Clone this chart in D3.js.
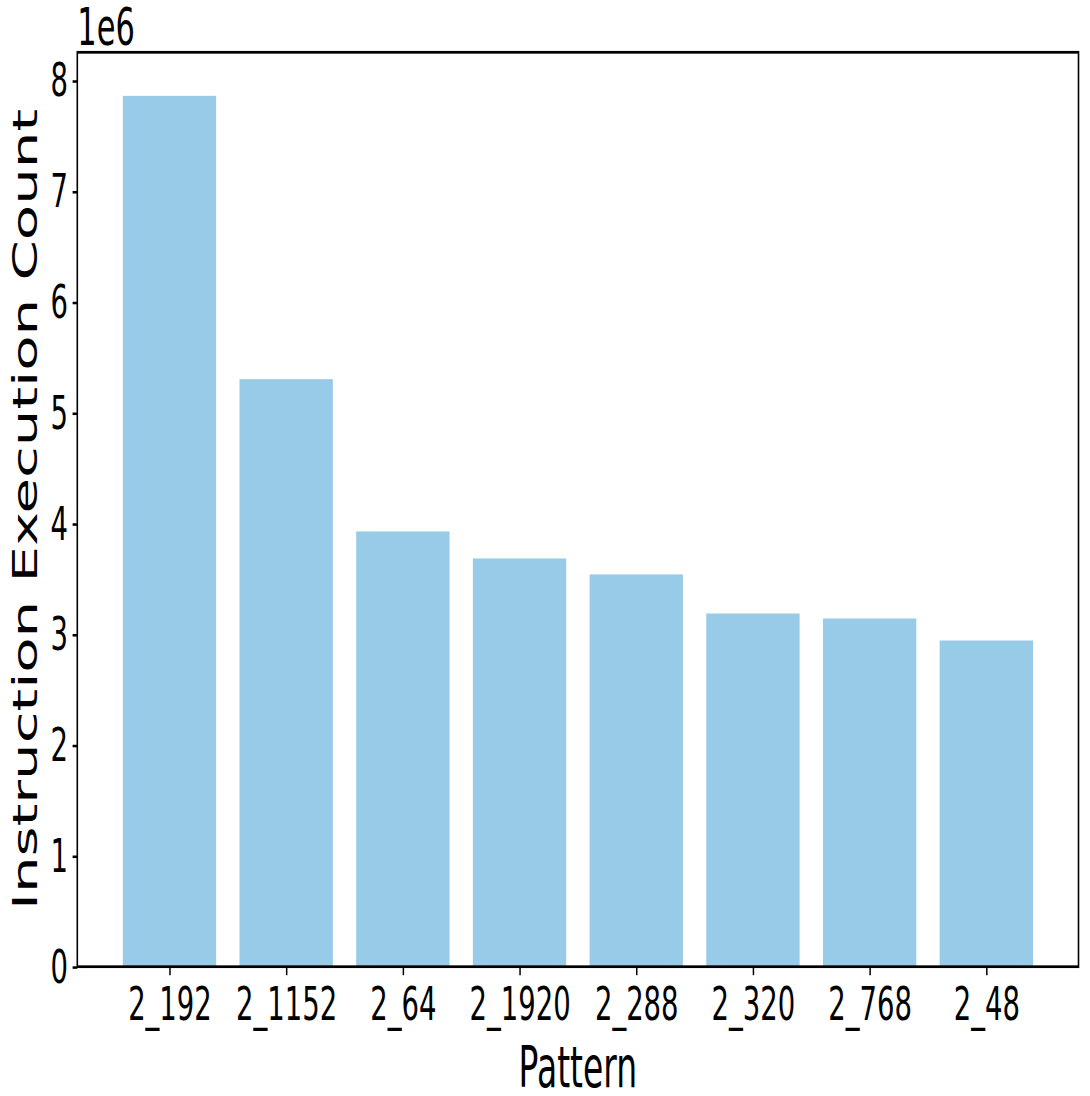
<!DOCTYPE html>
<html>
<head>
<meta charset="utf-8">
<script src="https://cdn.jsdelivr.net/npm/d3@7"></script>
<style>
  body { margin: 0; background: #fff; }
  svg { display: block; }
  text { font-family: "DejaVu Sans", sans-serif; }
</style>
</head>
<body>
<script>
const patterns = ['2_192', '2_1152', '2_64', '2_1920', '2_288', '2_320', '2_768', '2_48']
const counts = [7863000, 5305000, 3930000, 3686000, 3542000, 3189000, 3144000, 2945000]
const yTicks = [0, 1, 2, 3, 4, 5, 6, 7, 8]

var W = 1090
var H = 1096
// the original picture is stretched vertically, so draw in a squashed box and stretch it
var stretch = 1.7
var vh = H / stretch
var plotLeft = 77.3
var plotRight = 1078.5
var plotTop = 52.3 / stretch
var plotBottom = 966.7 / stretch

var svg = d3.select('body')
  .append('svg')
  .attr('width', W)
  .attr('height', H)
  .attr('viewBox', '0 0 ' + W + ' ' + vh)
  .attr('preserveAspectRatio', 'none')

const xScale = d3.scaleLinear()
  .domain([-0.79, patterns.length - 1 + 0.79])
  .range([plotLeft, plotRight])

const yScale = d3.scaleLinear()
  .domain([0, d3.max(counts) * 1.05])
  .range([plotBottom, plotTop])

svg.selectAll('rect.bar')
  .data(counts)
  .enter()
  .append('rect')
  .attr('class', 'bar')
  .attr('x', (d, i) => xScale(i - 0.4))
  .attr('width', xScale(0.8) - xScale(0))
  .attr('y', d => yScale(d))
  .attr('height', d => plotBottom - yScale(d))
  .style('fill', '#97cbe8')

const xAxis = d3.axisBottom(xScale)
  .tickValues(patterns.map((p, i) => i))
  .tickFormat(i => patterns[i])
  .tickSize(5)
  .tickPadding(6.8)

svg.append('g')
  .attr('transform', 'translate(0,' + plotBottom + ')')
  .call(xAxis)

const yAxis = d3.axisLeft(yScale)
  .tickValues(yTicks.map(t => t * 1e6))
  .tickFormat(d => d / 1e6)
  .tickSize(4.7)
  .tickPadding(4.6)

svg.append('g')
  .attr('transform', 'translate(' + plotLeft + ',0)')
  .call(yAxis)

svg.selectAll('.domain').remove()
svg.selectAll('.tick line').attr('stroke', '#000').attr('stroke-width', 1.5)
svg.selectAll('.tick text')
  .attr('fill', '#000')
  .attr('font-size', 27.5)
  .attr('font-family', '"DejaVu Sans", sans-serif')

svg.append('rect')
  .attr('x', plotLeft)
  .attr('y', plotTop)
  .attr('width', plotRight - plotLeft)
  .attr('height', plotBottom - plotTop)
  .attr('fill', 'none')
  .attr('stroke', '#000')
  .attr('stroke-width', 1.6)

svg.append('text')
  .attr('x', plotLeft)
  .attr('y', 26.5)
  .style('font-size', '30.5px')
  .text('1e6')

svg.append('text')
  .attr('x', (plotLeft + plotRight) / 2)
  .attr('y', 1086.7 / stretch)
  .attr('text-anchor', 'middle')
  .style('font-size', '33px')
  .text('Pattern')

svg.append('text')
  .attr('transform', 'translate(37,' + ((plotTop + plotBottom) / 2) + ') rotate(-90)')
  .attr('text-anchor', 'middle')
  .style('font-size', '34px')
  .text('Instruction Execution Count')
</script>
</body>
</html>
